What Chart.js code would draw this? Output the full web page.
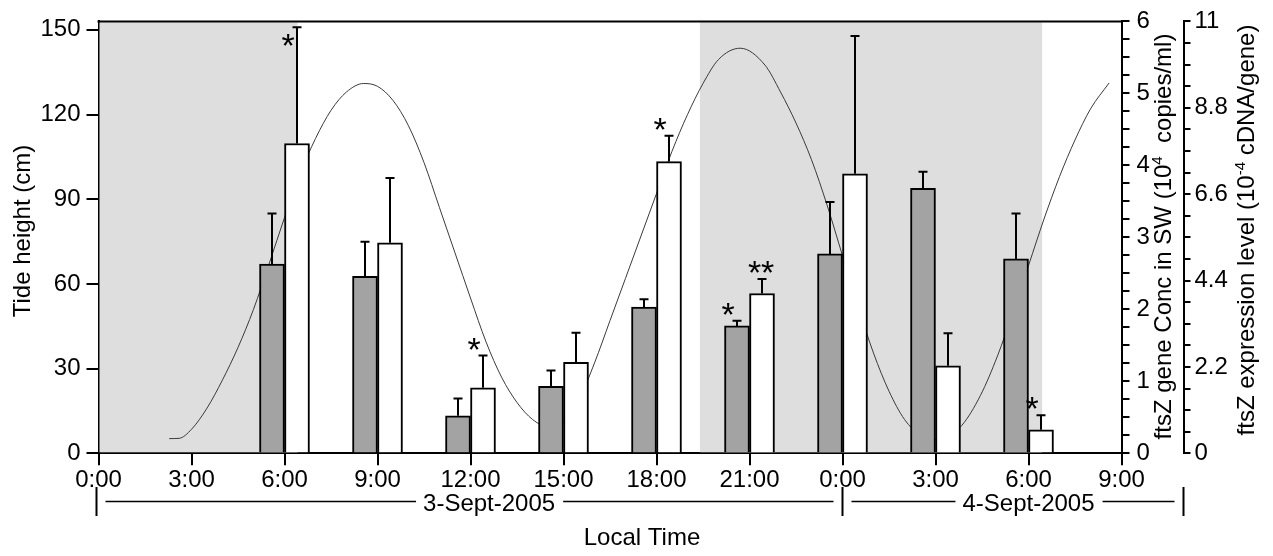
<!DOCTYPE html>
<html><head><meta charset="utf-8">
<script src="https://cdn.jsdelivr.net/npm/chart.js@4/dist/chart.umd.min.js"></script>
<style>html,body{margin:0;padding:0;background:#fff}#wrap{width:1273px;height:556px}</style>
</head><body><div id="wrap"><canvas id="c" width="1273" height="556"></canvas></div>
<script>
// ---------- data ----------
const sampleHours = [6, 9, 12, 15, 18, 21, 24, 27, 30];
const geneConc    = [2.63, 2.46, 0.52, 0.93, 2.03, 1.77, 2.77, 3.68, 2.70];
const geneConcErr = [0.70, 0.48, 0.24, 0.22, 0.11, 0.07, 0.72, 0.23, 0.63];
const exprLevel    = [7.89, 5.36, 1.67, 2.32, 7.43, 4.07, 7.12, 2.23, 0.60];
const exprLevelErr = [2.96, 1.65, 0.82, 0.75, 0.66, 0.37, 3.51, 0.83, 0.37];
const geneConcStars  = ['', '', '', '', '', '*', '', '', ''];
const exprLevelStars = ['*', '', '*', '', '*', '**', '', '', '*'];
const tideHours  = [2.28, 2.6, 3.0, 3.5, 4.0, 4.5, 5.0, 5.5, 6.0, 6.5, 7.0, 7.5, 8.0, 8.55, 9.0, 9.5, 10.0, 10.5, 11.0, 11.5, 12.0, 12.5, 13.0, 13.5, 14.0, 14.6, 15.0, 15.5, 16.0, 16.5, 17.0, 17.5, 18.0, 18.5, 19.0, 19.5, 20.0, 20.7, 21.5, 22.0, 22.5, 23.0, 23.5, 24.0, 24.5, 25.0, 25.5, 26.0, 26.5, 26.9, 27.4, 27.85, 28.45, 29.0, 29.5, 30.0, 30.5, 31.0, 31.5, 32.0, 32.6];
const tideHeight = [5.2, 5.3, 8.5, 16, 26, 37.5, 51, 67, 83.5, 99, 111.5, 121.5, 128, 131, 130, 125, 116, 103, 87, 71, 55, 39.5, 27, 18, 12, 9, 11, 19, 32, 47, 62, 77, 92, 107, 120, 131, 139.5, 143.5, 137.5, 128, 117, 104, 88, 70, 52, 35.5, 22, 12, 6.5, 4.8, 6.3, 9.9, 20.5, 34.5, 50, 66.5, 83, 98, 111, 122, 131.2];
const nightStart = [0, 19.4];
const nightEnd   = [6.42, 30.44];
const tideTicks = [0, 30, 60, 90, 120, 150];
const concTickLabels = [0, 1, 2, 3, 4, 5, 6];
const exprTickLabels = ['0', '2.2', '4.4', '6.6', '8.8', '11'];
const dayLabels  = ['3-Sept-2005', '4-Sept-2005'];
const dayStart   = [0, 24];
const dayEnd     = [24, 35];
const dayLabelAt = [12.6, 30.0];
const titleLeft = 'Tide height (cm)';
const titleRight1 = [['ftsZ gene Conc in SW (10', false], ['4', true], ['  copies/ml)', false]];
const titleRight2 = [['ftsZ expression level (10', false], ['-4', true], [' cDNA/gene)', false]];
const titleX = 'Local Time';

// ---------- style ----------
const FONT = "'Liberation Sans', Arial, Helvetica, sans-serif";
const FS = 24;
const CAPH = FS * 0.716 / 2;
Chart.defaults.font.family = FONT;
Chart.defaults.font.size = FS;
Chart.defaults.color = '#000';

const decor = {
  id: 'decor',
  beforeDatasetsDraw(chart) {
    const {ctx, chartArea: a, scales: {x}} = chart;
    ctx.save();
    ctx.fillStyle = '#dedede';
    for (let i = 0; i < nightStart.length; i++) {
      const x0 = Math.max(x.getPixelForValue(nightStart[i]), a.left + 1);
      const x1 = Math.min(x.getPixelForValue(nightEnd[i]), a.right - 1);
      ctx.fillRect(x0, a.top + 1, x1 - x0, a.bottom - a.top - 2);
    }
    ctx.restore();
  },
  afterDatasetsDraw(chart) {
    const {ctx, chartArea: a} = chart;
    ctx.save();
    ctx.strokeStyle = '#000';
    ctx.lineWidth = 2;
    ctx.beginPath();
    ctx.moveTo(a.left - 1, a.top);
    ctx.lineTo(a.right + 1, a.top);
    ctx.stroke();
    const sets = [[1, geneConc, geneConcErr, geneConcStars], [2, exprLevel, exprLevelErr, exprLevelStars]];
    ctx.font = '34px ' + FONT;
    for (const [di, vals, errs, stars] of sets) {
      const meta = chart.getDatasetMeta(di);
      const ys = chart.scales[meta.yAxisID];
      meta.data.forEach((el, j) => {
        const yTop = ys.getPixelForValue(vals[j] + errs[j]);
        ctx.beginPath();
        ctx.lineWidth = 2;
        ctx.moveTo(el.x, el.y);
        ctx.lineTo(el.x, yTop);
        ctx.moveTo(el.x - 4.5, yTop);
        ctx.lineTo(el.x + 4.5, yTop);
        ctx.stroke();
        const s = stars[j];
        if (s) {
          const cx = el.x + (s.length > 1 ? -1 : -9);
          const cy = Math.max(yTop - 12, a.top + 19);
          const m = ctx.measureText(s);
          ctx.fillStyle = '#000';
          ctx.textAlign = 'left';
          ctx.textBaseline = 'alphabetic';
          const tx = cx - (m.actualBoundingBoxRight - m.actualBoundingBoxLeft) / 2;
          const ty = cy - (m.actualBoundingBoxDescent - m.actualBoundingBoxAscent) / 2;
          ctx.fillText(s, tx, ty);
        }
      });
    }
    ctx.restore();
  },
  afterDraw(chart) {
    const {ctx, scales: {x}} = chart;
    ctx.save();
    ctx.fillStyle = '#000';
    ctx.strokeStyle = '#000';
    // left title
    ctx.font = FS + 'px ' + FONT;
    ctx.save();
    ctx.translate(21.7 + CAPH, 231);
    ctx.rotate(-Math.PI / 2);
    ctx.textAlign = 'center';
    ctx.textBaseline = 'alphabetic';
    ctx.fillText(titleLeft, 0, 0);
    ctx.restore();
    // right titles with superscripts
    const SUP = 15;
    const drawParts = (parts, cx, cy) => {
      let total = 0;
      const widths = parts.map(([t, sup]) => {
        ctx.font = (sup ? SUP : FS) + 'px ' + FONT;
        const w = ctx.measureText(t).width;
        total += w;
        return w;
      });
      ctx.save();
      ctx.translate(cx + CAPH, cy);
      ctx.rotate(-Math.PI / 2);
      ctx.textAlign = 'left';
      ctx.textBaseline = 'alphabetic';
      let px = -total / 2;
      parts.forEach(([t, sup], i) => {
        ctx.font = (sup ? SUP : FS) + 'px ' + FONT;
        ctx.fillText(t, px, sup ? -9 : 0);
        px += widths[i];
      });
      ctx.restore();
    };
    drawParts(titleRight1, 1162.5, 236.5);
    drawParts(titleRight2, 1245.5, 230);
    // day brackets
    ctx.font = FS + 'px ' + FONT;
    ctx.textAlign = 'center';
    ctx.textBaseline = 'alphabetic';
    const yLine = 501.5;
    for (let i = 0; i < dayLabels.length; i++) {
      const xs = x.getPixelForValue(dayStart[i]) - (i === 0 ? 2 : 0);
      const xe = x.getPixelForValue(dayEnd[i]);
      const xc = x.getPixelForValue(dayLabelAt[i]);
      const w = ctx.measureText(dayLabels[i]).width;
      ctx.fillText(dayLabels[i], xc, 510.7);
      ctx.lineWidth = 1.5;
      ctx.beginPath();
      ctx.moveTo(xs + 9, yLine); ctx.lineTo(xc - w / 2 - 7, yLine);
      ctx.moveTo(xc + w / 2 + 8, yLine); ctx.lineTo(xe - 9, yLine);
      ctx.stroke();
      ctx.lineWidth = 2;
      ctx.beginPath();
      ctx.moveTo(xs, 487); ctx.lineTo(xs, 516);
      if (i === dayLabels.length - 1) { ctx.moveTo(xe, 487); ctx.lineTo(xe, 516); }
      ctx.stroke();
    }
    ctx.fillText(titleX, 642, 545);
    ctx.restore();
  }
};

const tickGrid = (len) => ({drawOnChartArea: false, drawTicks: true, tickLength: len, color: '#000', lineWidth: 2});
const border = {display: true, color: '#000', width: 2};

new Chart(document.getElementById('c'), {
  type: 'bar',
  data: {
    datasets: [
      {type: 'line', label: 'Tide height', data: tideHours.map((h, i) => ({x: h, y: tideHeight[i]})), yAxisID: 'y',
       borderColor: '#3a3a3a', borderWidth: 1, pointRadius: 0, cubicInterpolationMode: 'monotone', order: 2},
      {label: 'ftsZ gene Conc', data: sampleHours.map((h, i) => ({x: h, y: geneConc[i]})), yAxisID: 'y1',
       backgroundColor: '#a3a3a3', borderColor: '#000', borderWidth: 2, barThickness: 25, order: 1},
      {label: 'ftsZ expression level', data: sampleHours.map((h, i) => ({x: h, y: exprLevel[i]})), yAxisID: 'y2',
       backgroundColor: '#ffffff', borderColor: '#000', borderWidth: 2, barThickness: 25, order: 1}
    ]
  },
  options: {
    responsive: false,
    animation: false,
    layout: {padding: {top: 14, left: 0, right: 0, bottom: 0}},
    plugins: {legend: {display: false}, tooltip: {enabled: false}},
    scales: {
      x: {type: 'linear', min: 0, max: 33, offset: false, grid: {...tickGrid(12), offset: false}, border,
          ticks: {stepSize: 3, padding: 1, maxRotation: 0, autoSkip: false, font: {size: FS},
                  callback: v => (v % 24) + ':00'},
          afterFit: s => { s.height = 102.7; }},
      y: {position: 'left', min: 0, max: 153, grid: tickGrid(12), border,
          ticks: {padding: 6, font: {size: FS}},
          afterBuildTicks: s => { s.ticks = tideTicks.map(v => ({value: v})); },
          afterFit: s => { s.width = 98.5; }},
      y1: {position: 'right', min: 0, max: 6, grid: tickGrid(8), border,
           ticks: {stepSize: 0.25, padding: 7, autoSkip: false, font: {size: FS},
                   callback: v => concTickLabels.includes(v) ? String(v) : ''},
           afterFit: s => { s.width = 62; }},
      y2: {position: 'right', min: 0, max: 11, grid: tickGrid(7), border,
           ticks: {stepSize: 0.55, padding: 4, autoSkip: false, font: {size: FS},
                   callback: v => { const k = Math.round(v / 2.2); return Math.abs(v - k * 2.2) < 1e-6 ? exprTickLabels[k] : ''; }},
           afterFit: s => { s.width = 89.5; }}
    }
  },
  plugins: [decor]
});
</script>
</body></html>
